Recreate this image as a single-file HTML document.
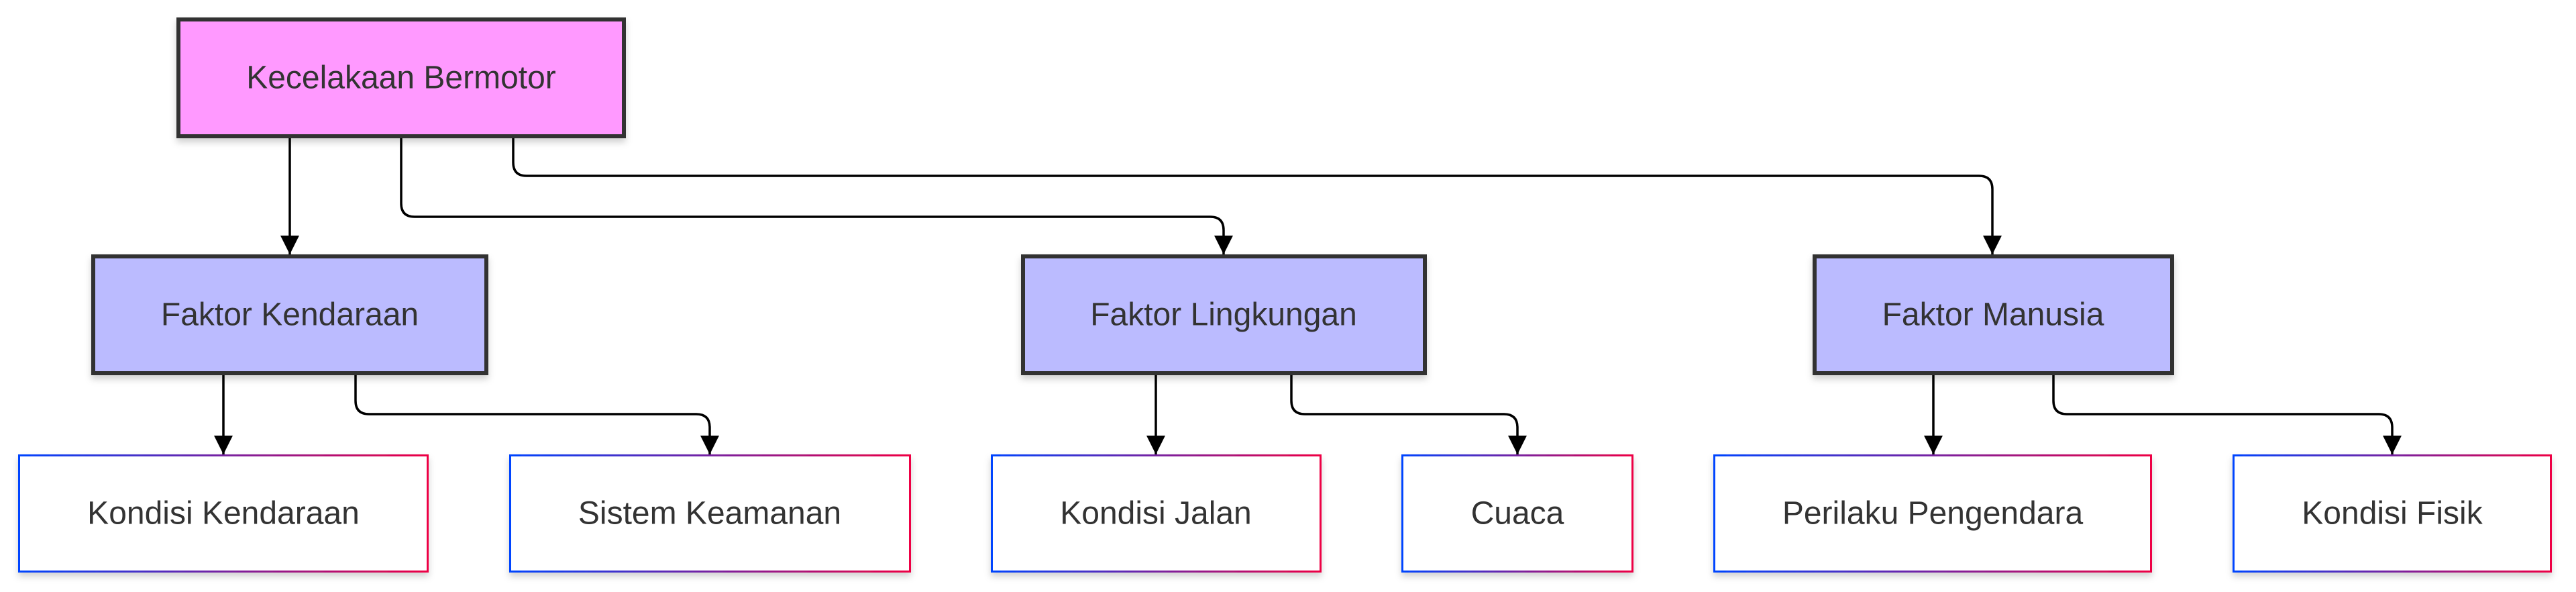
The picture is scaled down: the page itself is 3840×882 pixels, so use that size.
<!DOCTYPE html>
<html><head><meta charset="utf-8"><style>
html,body{margin:0;padding:0;background:#fff;}
svg{display:block;}
text{font-family:"Liberation Sans",Arial,sans-serif;font-size:48px;fill:#333;text-anchor:middle;dominant-baseline:central;}
</style></head><body>
<svg width="3840" height="882" viewBox="0 0 3840 882" xmlns="http://www.w3.org/2000/svg">
<defs>
<linearGradient id="g" x1="0" y1="0" x2="1" y2="0">
<stop offset="0" stop-color="#0044ff"/><stop offset="1" stop-color="#ee0044"/>
</linearGradient>
<filter id="sh" x="-10%" y="-10%" width="120%" height="130%">
<feDropShadow dx="0" dy="6" stdDeviation="5" flood-color="#000" flood-opacity="0.18"/>
</filter>
<marker id="a" markerWidth="28" markerHeight="28" refX="14" refY="28" orient="0" markerUnits="userSpaceOnUse">
<path d="M0,0 L28,0 L14,28 Z" fill="#000"/>
</marker>
</defs>
<g fill="none" stroke="#000" stroke-width="3.5">
<path d="M432,206 V379" />
<path d="M598,206 V303 Q598,323 618,323 H1804 Q1824,323 1824,343 V379"/>
<path d="M765,206 V242 Q765,262 785,262 H2950 Q2970,262 2970,282 V379"/>
<path d="M333,559 V677"/>
<path d="M530,559 V597 Q530,617 550,617 H1038 Q1058,617 1058,637 V677"/>
<path d="M1723,559 V677"/>
<path d="M1925,559 V597 Q1925,617 1945,617 H2242 Q2262,617 2262,637 V677"/>
<path d="M2882,559 V677"/>
<path d="M3061,559 V597 Q3061,617 3081,617 H3546 Q3566,617 3566,637 V677"/>
</g>
<g fill="#000">
<path d="M418,351 L446,351 L432,379 Z"/>
<path d="M1810,351 L1838,351 L1824,379 Z"/>
<path d="M2956,351 L2984,351 L2970,379 Z"/>
<path d="M319,649 L347,649 L333,677 Z"/>
<path d="M1044,649 L1072,649 L1058,677 Z"/>
<path d="M1709,649 L1737,649 L1723,677 Z"/>
<path d="M2248,649 L2276,649 L2262,677 Z"/>
<path d="M2868,649 L2896,649 L2882,677 Z"/>
<path d="M3552,649 L3580,649 L3566,677 Z"/>
</g>
<g filter="url(#sh)">
<rect x="266" y="29" width="664" height="174" fill="#ff99ff" stroke="#333" stroke-width="6"/>
<rect x="139" y="382" width="586" height="174" fill="#bbbbff" stroke="#333" stroke-width="6"/>
<rect x="1525" y="382" width="599" height="174" fill="#bbbbff" stroke="#333" stroke-width="6"/>
<rect x="2705" y="382" width="533" height="174" fill="#bbbbff" stroke="#333" stroke-width="6"/>
<rect x="28.5" y="678.5" width="609" height="173" fill="#fff" stroke="url(#g)" stroke-width="3"/>
<rect x="760.5" y="678.5" width="596" height="173" fill="#fff" stroke="url(#g)" stroke-width="3"/>
<rect x="1478.5" y="678.5" width="490" height="173" fill="#fff" stroke="url(#g)" stroke-width="3"/>
<rect x="2090.5" y="678.5" width="343" height="173" fill="#fff" stroke="url(#g)" stroke-width="3"/>
<rect x="2555.5" y="678.5" width="651" height="173" fill="#fff" stroke="url(#g)" stroke-width="3"/>
<rect x="3329.5" y="678.5" width="473" height="173" fill="#fff" stroke="url(#g)" stroke-width="3"/>
</g>
<text x="598" y="116">Kecelakaan Bermotor</text>
<text x="432" y="469">Faktor Kendaraan</text>
<text x="1824" y="469">Faktor Lingkungan</text>
<text x="2971" y="469">Faktor Manusia</text>
<text x="333" y="765">Kondisi Kendaraan</text>
<text x="1058" y="765">Sistem Keamanan</text>
<text x="1723" y="765">Kondisi Jalan</text>
<text x="2262" y="765">Cuaca</text>
<text x="2881" y="765">Perilaku Pengendara</text>
<text x="3566" y="765">Kondisi Fisik</text>
</svg>
</body></html>
